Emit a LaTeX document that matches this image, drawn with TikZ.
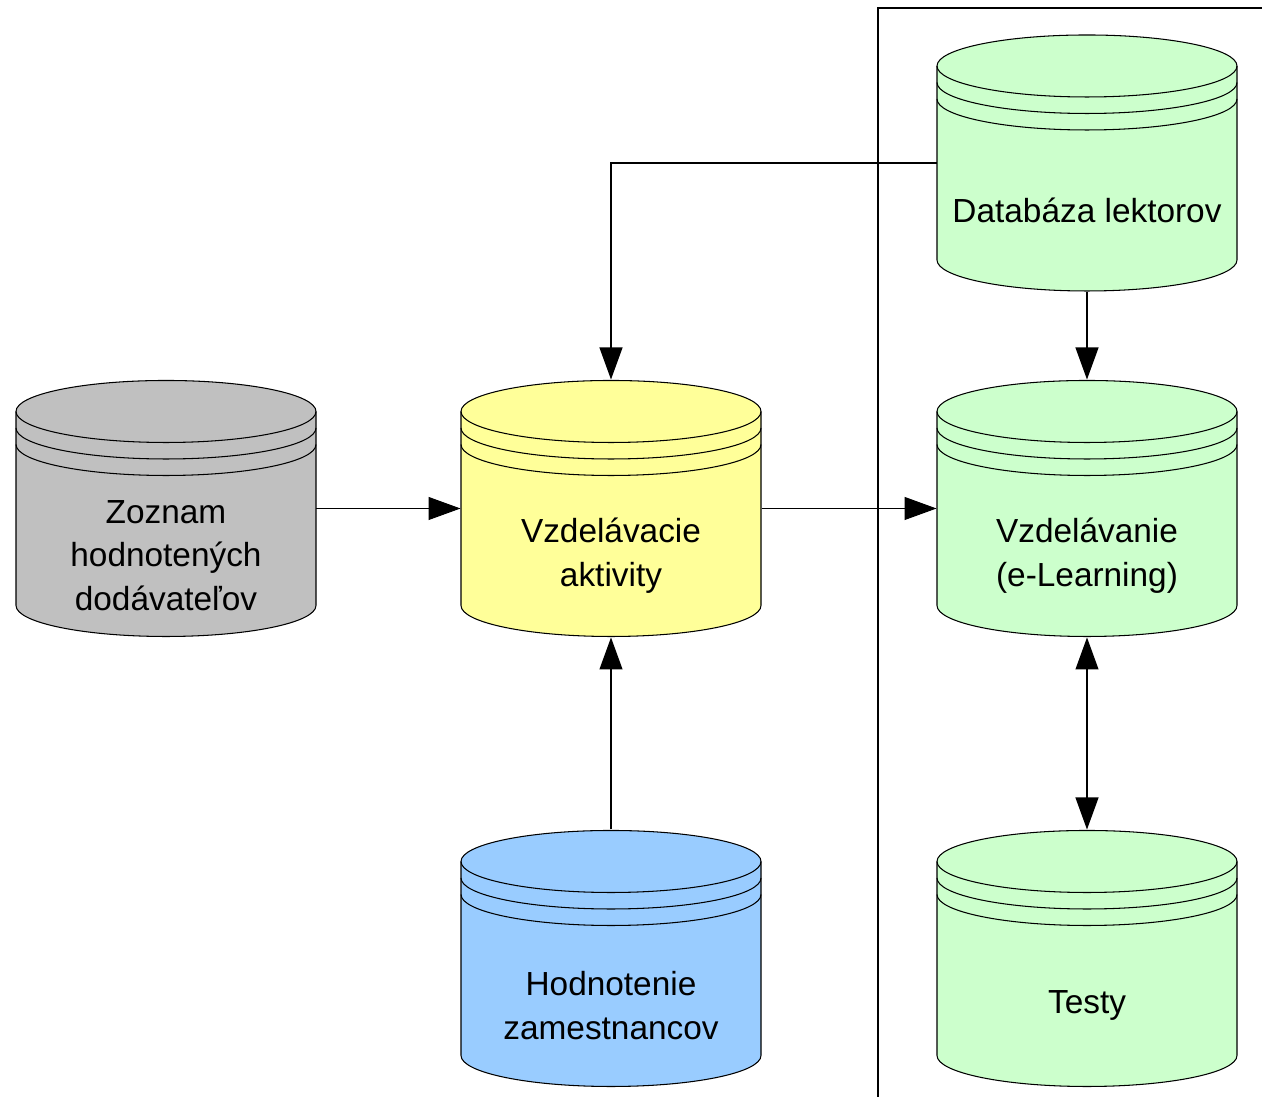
\documentclass[tikz,border=0pt]{standalone}
\usepackage{fontspec}
\setmainfont{Liberation Sans}
\usetikzlibrary{arrows.meta}

\definecolor{dbgray}{HTML}{C0C0C0}
\definecolor{dbyellow}{HTML}{FFFF99}
\definecolor{dbgreen}{HTML}{CCFFCC}
\definecolor{dbblue}{HTML}{99CCFF}

\tikzset{
  dbbox/.style={minimum width=6cm, minimum height=5.14cm, inner sep=0pt},
  dbtext/.style={align=center, font=\fontsize{19}{24.7}\selectfont},
  tip/.style={-{Triangle[length=0.64cm,width=0.46cm]}},
  tiptwo/.style={{Triangle[length=0.64cm,width=0.46cm]}-{Triangle[length=0.64cm,width=0.46cm]}},
}

% database cylinder: name, x, y, fill, text
\newcommand{\dbcyl}[5]{%
  \begin{scope}[shift={(#2,#3)}]
    \filldraw[fill=#4] (-150,97) -- (-150,-97)
      arc[start angle=180, end angle=360, x radius=150, y radius=31]
      -- (150,97) arc[start angle=0, end angle=180, x radius=150, y radius=31] -- cycle;
    \draw (-150,97) arc[start angle=180, end angle=360, x radius=150, y radius=31];
    \draw (-150,80.5) arc[start angle=180, end angle=360, x radius=150, y radius=31];
    \draw (-150,64) arc[start angle=180, end angle=360, x radius=150, y radius=31];
  \end{scope}
  \node[dbbox] (#1) at (#2,#3) {};
  \node[dbtext] (#1-t) at (#2,#3-47) {#5};
}

\begin{document}
\begin{tikzpicture}[x=0.02cm, y=0.02cm, line width=0.6pt]
  \useasboundingbox (0,0) rectangle (1262,1097);
  % frame
  \coordinate (fb) at (878,0);
  \coordinate (ft) at (878,1089);
  \coordinate (fr) at (1262,1089);
  \draw (fb) -- (ft) -- (fr);
  %
  \dbcyl{zoznam}{166}{588.5}{dbgray}{Zoznam\\hodnotených\\dodávateľov}
  \dbcyl{aktivity}{611}{588.5}{dbyellow}{Vzdelávacie\\aktivity}
  \dbcyl{hodnotenie}{611}{138.5}{dbblue}{Hodnotenie\\zamestnancov}
  \dbcyl{lektori}{1087}{934}{dbgreen}{Databáza lektorov}
  \dbcyl{elearning}{1087}{588.5}{dbgreen}{Vzdelávanie\\(e-Learning)}
  \dbcyl{testy}{1087}{138.5}{dbgreen}{Testy}
  %
  \draw[tip] (zoznam.east) -- (aktivity.west);
  \draw[tip] (aktivity.east) -- (elearning.west);
  \draw[tip] (lektori.west) -| (aktivity.north);
  \draw[tip] (lektori.south) -- (elearning.north);
  \draw[tiptwo] (elearning.south) -- (testy.north);
  \draw[tip] (hodnotenie.north) -- (aktivity.south);
\end{tikzpicture}
\end{document}
